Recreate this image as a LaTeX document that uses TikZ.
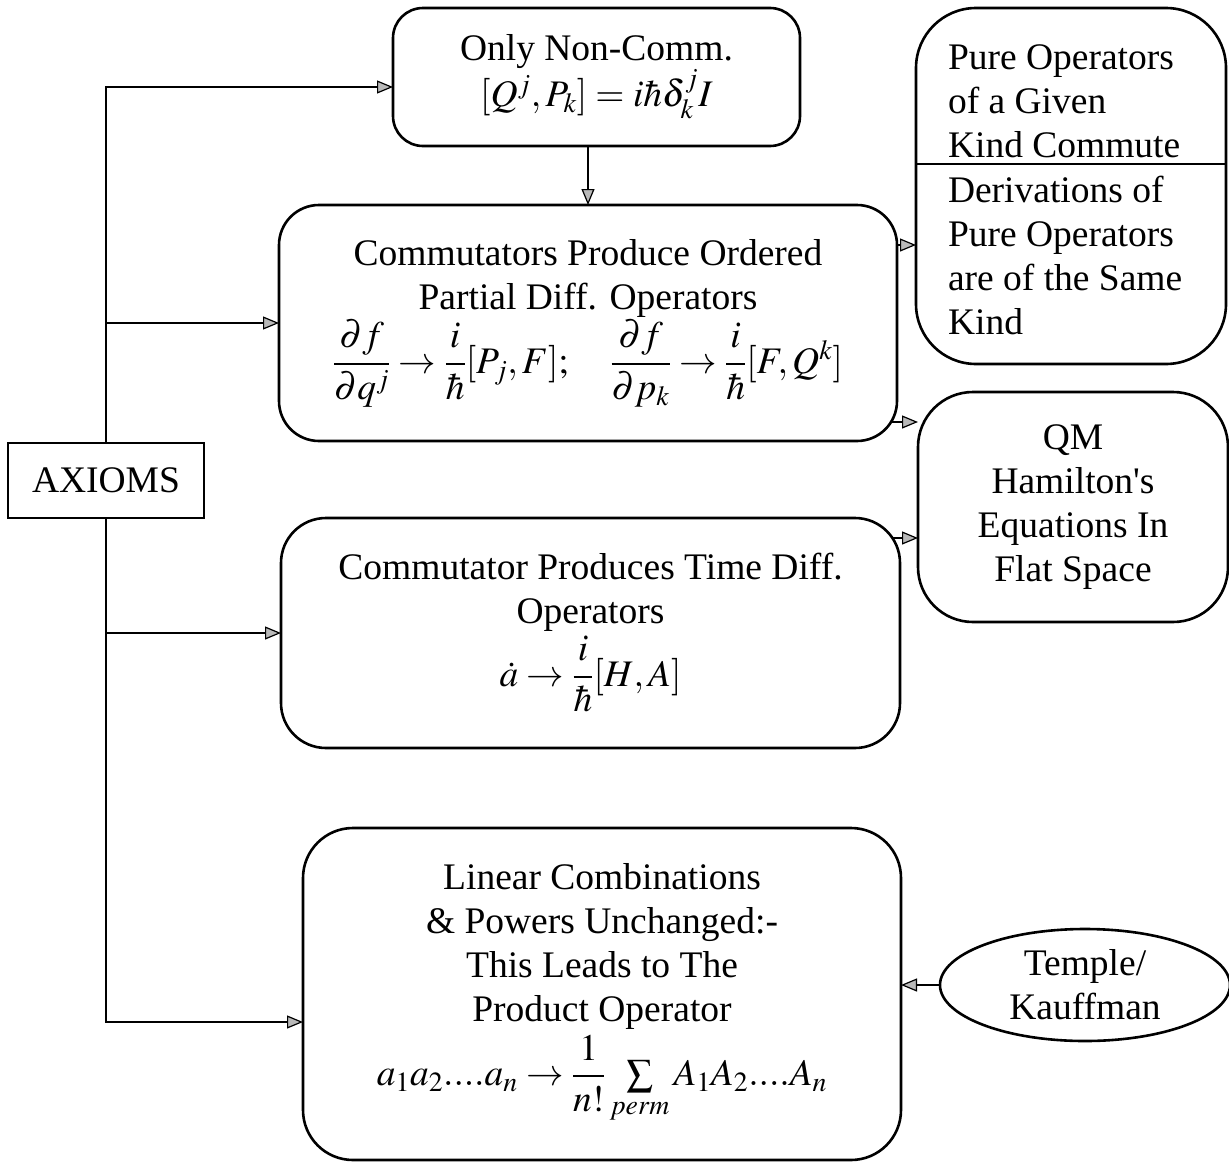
\documentclass[tikz,border=0pt]{standalone}
\usepackage{amsmath}
\usepackage{mathptmx}
\usepackage[no-math]{fontspec}
\setmainfont{Liberation Serif}
\usetikzlibrary{arrows.meta,shapes.geometric}
\newcommand{\boxfont}{\fontsize{37.5}{44}\selectfont}
\begin{document}
\begin{tikzpicture}[x=1pt,y=-1pt,
  every node/.style={inner sep=0pt,outer sep=0pt,font=\boxfont},
  blk/.style={draw,line width=2.6pt,align=center},
  arr/.style={line width=2.4pt,-{Triangle[length=16pt,width=13pt,fill=gray!55,line width=1.2pt]}},
  ln/.style={line width=2.4pt}]
\useasboundingbox (0,0) rectangle (1229,1162);

% boxes
\node[blk] (axioms) at (106,480.5) [minimum width=196,minimum height=75] {AXIOMS};
\node[blk,rounded corners=30pt,minimum width=407,minimum height=138] (only) at (596.5,77)
  {Only Non-Comm.\\ $[Q^j,P_k]=i\hbar\delta^j_k I$};
\node[blk,rounded corners=40pt,minimum width=618,minimum height=236] (comm) at (588,323)
  {Commutators Produce Ordered\\ Partial Diff. Operators\\[2pt]
   $\dfrac{\partial f}{\partial q^j}\to\dfrac{i}{\hbar}[P_j,F];\quad
    \dfrac{\partial f}{\partial p_k}\to\dfrac{i}{\hbar}[F,Q^k]$};
\node[blk,rounded corners=45pt,minimum width=619,minimum height=230] (time) at (590.5,633)
  {Commutator Produces Time Diff.\\ Operators\\[4pt]
   $\dot a\to\dfrac{i}{\hbar}[H,A]$};
\node[blk,rounded corners=50pt,minimum width=598,minimum height=332] (linear) at (602,994)
  {Linear Combinations\\ \& Powers Unchanged:-\\ This Leads to The\\ Product Operator\\[4pt]
   $a_1a_2....a_n\to\dfrac{1}{n!}\sum\limits_{perm}A_1A_2....A_n$};
\node[blk,rounded corners=60pt,minimum width=310,minimum height=356] (pure) at (1071,186) {};
\node[blk,rounded corners=55pt,minimum width=310,minimum height=230] (qm) at (1073,507)
  {QM\\ Hamilton\textquotesingle s\\ Equations In\\ Flat Space};
\node[draw,line width=2.6pt,ellipse,minimum width=290,minimum height=112,align=center] (temple) at (1085,985)
  {Temple/\\ Kauffman};

% split pure-operator box and its two texts (anchored on their last lines)
\draw[ln] (pure.west |- 0,164) -- (pure.east |- 0,164);
\node[anchor=base west,align=left] (pureA) at (948,157)
  {Pure Operators\\ of a Given\\ Kind Commute};
\node[anchor=base west,align=left] (pureB) at (948,334)
  {Derivations of\\ Pure Operators\\ are of the Same\\ Kind};

% connectors from the axioms
\draw[arr] (axioms.north) |- ([yshift=-10pt]only.west);
\draw[arr] (axioms.north |- comm.west) -- (comm.west);
\draw[arr] (axioms.south |- time.west) -- (time.west);
\draw[arr] (axioms.south) |- ([yshift=-28pt]linear.west);

% other connectors
\draw[arr] (only.south -| comm.north) -- (comm.north);
\draw[arr] (comm.east |- 0,245) -- (pure.west |- 0,245);
\draw[arr] (891,422) -- (qm.west |- 0,422);
\draw[arr] (893,538) -- (qm.west |- 0,538);
\draw[arr] (temple.west) -- (temple.west -| linear.east);
\end{tikzpicture}
\end{document}
